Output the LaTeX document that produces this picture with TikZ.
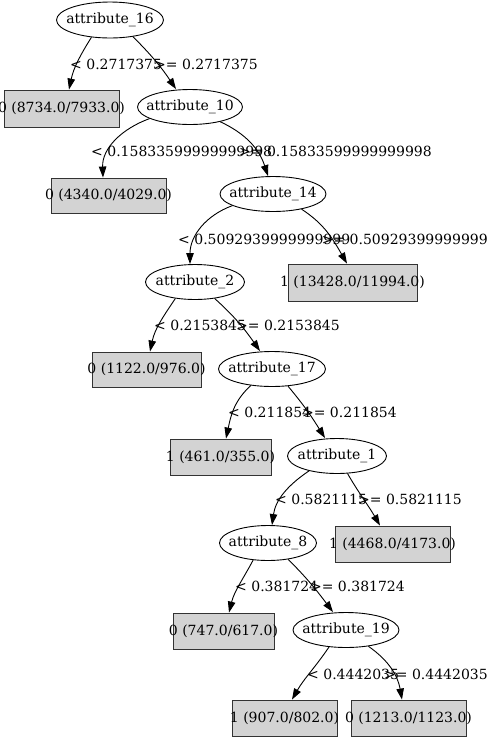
\documentclass[tikz,border=0pt]{standalone}
\usepackage{fontspec}
\setmainfont{DejaVu Serif}
\usetikzlibrary{shapes.geometric,arrows.meta}

\definecolor{leafgray}{RGB}{211,211,211}

\tikzset{
  every node/.style={font=\fontsize{14}{16}\selectfont},
  split/.style={ellipse, draw=black, line width=0.9pt, inner sep=0pt,
                minimum width=105pt, minimum height=35pt},
  leaf/.style={rectangle, draw=black!80, fill=leafgray, line width=0.9pt,
               inner sep=0pt, minimum height=36pt},
  edge/.style={draw=black, line width=0.9pt,
               -{Triangle[length=11pt,width=7.5pt]}},
  lbl/.style={inner sep=0pt, anchor=base west},
  rbl/.style={inner sep=0pt, anchor=base east}
}

\begin{document}
\begin{tikzpicture}[x=1pt, y=-1pt]
  \useasboundingbox (0,0) rectangle (488,740);

  % internal split nodes
  \node[split, minimum width=107pt, minimum height=36pt] (n16) at (110,20) {\makebox[0pt]{attribute\_16}};
  \node[split] (n10) at (190,107) {\makebox[0pt]{attribute\_10}};
  \node[split, minimum width=106pt] (n14) at (273,194) {\makebox[0pt]{attribute\_14}};
  \node[split, minimum width=99pt] (n2) at (195,282) {\makebox[0pt]{attribute\_2}};
  \node[split, minimum width=107pt] (n17) at (272,369) {\makebox[0pt]{attribute\_17}};
  \node[split, minimum width=99pt] (n1) at (337,456) {\makebox[0pt]{attribute\_1}};
  \node[split, minimum width=97pt] (n8) at (268,543) {\makebox[0pt]{attribute\_8}};
  \node[split, minimum width=106pt] (n19) at (346,630) {\makebox[0pt]{attribute\_19}};

  % leaves
  \node[leaf, minimum width=115pt, minimum height=37pt] (l8734) at (61.5,108.5) {\makebox[0pt]{0 (8734.0/7933.0)}};
  \node[leaf, minimum width=115pt, minimum height=35pt] (l4340) at (108.5,195.5) {\makebox[0pt]{0 (4340.0/4029.0)}};
  \node[leaf, minimum width=129pt, minimum height=37pt] (l13428) at (352.5,282.5) {\makebox[0pt]{1 (13428.0/11994.0)}};
  \node[leaf, minimum width=109pt, minimum height=35pt] (l1122) at (146.5,369.5) {\makebox[0pt]{0 (1122.0/976.0)}};
  \node[leaf, minimum width=101pt] (l461) at (220.5,457) {\makebox[0pt]{1 (461.0/355.0)}};
  \node[leaf, minimum width=115pt] (l4468) at (392.5,544) {\makebox[0pt]{1 (4468.0/4173.0)}};
  \node[leaf, minimum width=101pt] (l747) at (223.5,631) {\makebox[0pt]{0 (747.0/617.0)}};
  \node[leaf, minimum width=105pt] (l907) at (284.5,718) {\makebox[0pt]{1 (907.0/802.0)}};
  \node[leaf, minimum width=115pt] (l1213) at (408.5,718) {\makebox[0pt]{0 (1213.0/1123.0)}};

  % branches
  \draw[edge] (n16.223) to[out=238, in=78] (l8734.north -| 69,0);
  \draw[edge] (n16.324) to[out=-45, in=124] (n10.north -| 176,0);
  \draw[edge] (n10.196) to[out=200, in=92] (l4340.north -| 103,0);
  \draw[edge] (n10.334) to[out=-25, in=108] (n14.north -| 268,0);
  \draw[edge] (n14.196) to[out=200, in=90] (n2.north -| 190,0);
  \draw[edge] (n14.332) to[out=-33, in=120] (l13428.north -| 347,0);
  \draw[edge] (n2.220) to[out=236, in=78] (l1122.north -| 150,0);
  \draw[edge] (n2.320) to[out=-42, in=125] (n17.north -| 260,0);
  \draw[edge] (n17.218) to[out=222, in=78] (l461.north -| 226,0);
  \draw[edge] (n17.313) to[out=-50, in=122] (n1.north -| 325,0);
  \draw[edge] (n1.208) to[out=214, in=82] (n8.north -| 272,0);
  \draw[edge] (n1.301) to[out=-60, in=120] (l4468.north -| 380,0);
  \draw[edge] (n8.229) to[out=242, in=76] (l747.north -| 229,0);
  \draw[edge] (n8.321) to[out=-45, in=127] (n19.north -| 333,0);
  \draw[edge] (n19.225) to[out=236, in=60] (l907.north -| 292,0);
  \draw[edge] (n19.324) to[out=-35, in=100] (l1213.north -| 402,0);

  % branch conditions
  \node[lbl] (c16a) at (70,69) {< 0.2717375};
  \node[rbl] (c16b) at (258,69) {>= 0.2717375};
  \node[lbl] (c10a) at (91,156) {< 0.15833599999999998};
  \node[rbl] (c10b) at (432,156) {>= 0.15833599999999998};
  \node[lbl] (c14a) at (178,244) {< 0.5092939999999999};
  \node[rbl] (c14b) at (488,244) {>= 0.50929399999999};
  \node[lbl] (c2a) at (154,330) {< 0.2153845};
  \node[rbl] (c2b) at (340,330) {>= 0.2153845};
  \node[lbl] (c17a) at (228,417) {< 0.211854};
  \node[rbl] (c17b) at (397,417) {>= 0.211854};
  \node[lbl] (c1a) at (275,504) {< 0.5821115};
  \node[rbl] (c1b) at (462,504) {>= 0.5821115};
  \node[lbl] (c8a) at (235,591) {< 0.381724};
  \node[rbl] (c8b) at (405,591) {>= 0.381724};
  \node[lbl] (c19a) at (307,679) {< 0.4442035};
  \node[rbl] (c19b) at (488,679) {>= 0.4442035};
\end{tikzpicture}
\end{document}
